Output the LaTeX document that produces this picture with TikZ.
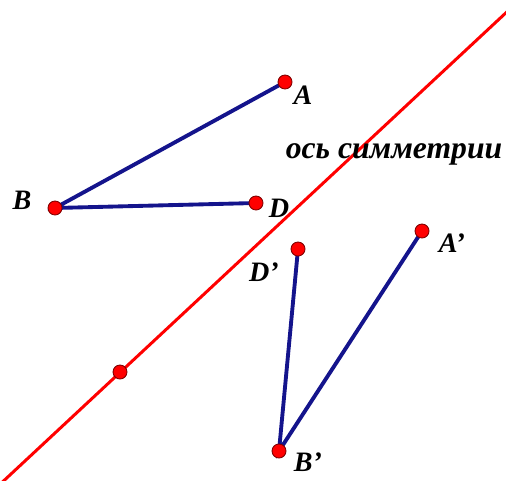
\documentclass[tikz,border=0pt]{standalone}
\usepackage{fontspec}
\setmainfont{Liberation Serif}
\usepackage{tikz}
\usetikzlibrary{positioning}

\newcommand{\pr}{\char"0027}

\begin{document}
\begin{tikzpicture}[x=0.02cm, y=-0.02cm, thick,
        every node/.style={font=\fontsize{16}{18}\selectfont\bfseries\itshape},
        pt/.style={circle, draw=red!50!black, fill=red, line width=0.5pt, inner sep=0pt, minimum size=0.28cm},
        seg/.style={draw={rgb,255:red,20;green,20;blue,140}, line width=2.2pt},
        axis/.style={draw=red, line width=1.7pt}]
        \useasboundingbox (0,0) rectangle (506,480);
        \coordinate (ax1) at (-4,488);
        \coordinate (ax2) at (510,9);
        \draw[axis] (ax1) -- (ax2);

        \draw[seg] (285,82) -- (55,208) -- (256,203);
        \draw[seg] (422,231) -- (279,451) -- (298,249);

        \node (A) [pt] at (285,82) {};
        \node (B) [pt] at (55,208) {};
        \node (D) [pt] at (256,203) {};
        \node (A1) [pt] at (422,231) {};
        \node (B1) [pt] at (279,451) {};
        \node (D1) [pt] at (298,249) {};
        \node (M) [pt] at (120,372) {};

        \node at (303,95) {A};
        \node at (22,200) {B};
        \node at (279,208) {D};
        \node at (264,272) {D\pr};
        \node at (452,243) {A\pr};
        \node at (308,462) {B\pr};
        \node[font=\fontsize{18}{20}\selectfont\bfseries\itshape] at (394,154) {ось симметрии};
    \end{tikzpicture}
\end{document}
